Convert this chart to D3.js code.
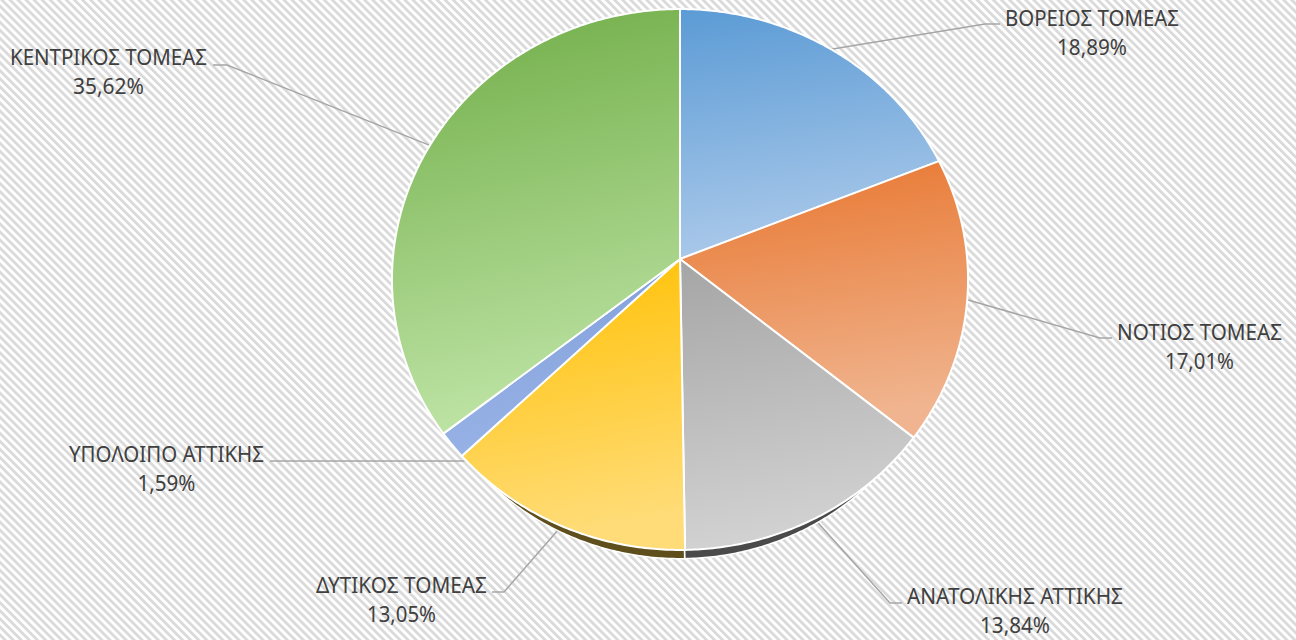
<!DOCTYPE html>
<html>
<head>
<meta charset="utf-8">
<script src="https://cdn.jsdelivr.net/npm/d3@7"></script>
<style>
  html, body { margin: 0; padding: 0; background: #ffffff; }
  svg { display: block; }
</style>
</head>
<body>
<svg id="chart" width="1296" height="640"></svg>
<script>
// ---- data ----
const categories = ["ΒΟΡΕΙΟΣ ΤΟΜΕΑΣ", "ΝΟΤΙΟΣ ΤΟΜΕΑΣ", "ΑΝΑΤΟΛΙΚΗΣ ΑΤΤΙΚΗΣ", "ΔΥΤΙΚΟΣ ΤΟΜΕΑΣ", "ΥΠΟΛΟΙΠΟ ΑΤΤΙΚΗΣ", "ΚΕΝΤΡΙΚΟΣ ΤΟΜΕΑΣ"];
const values = [18.89, 17.01, 13.84, 13.05, 1.59, 35.62];
const valueLabels = ["18,89%", "17,01%", "13,84%", "13,05%", "1,59%", "35,62%"];

// ---- styling ----
const topColors    = ["#5b9bd5", "#e8762f", "#a5a5a5", "#ffc000", "#819fdb", "#70ad47"];
const bottomColors = ["#abc9ea", "#f0b590", "#d2d2d2", "#ffdc78", "#97b2e5", "#bde3a4"];
const sideColors   = ["#2e5d8a", "#8a4514", "#4a4a4a", "#5f4f1d", "#2f4a80", "#3d6426"];

// label layout: text centre x, first baseline y, elbow, end of leader
const labelLayout = [
  {tx: 1092, ty: 26,  elbow: [985, 24],  end: [1000, 24], w1: 174, w2: 70},
  {tx: 1199.5, ty: 340, elbow: [1100, 338], end: [1112, 338], w1: 165, w2: 69},
  {tx: 1015, ty: 604, elbow: [890, 603], end: [902, 603], w1: 216, w2: 70},
  {tx: 401.5, ty: 593, elbow: [504, 592], end: [492, 592], w1: 171, w2: 69},
  {tx: 166.5, ty: 462, elbow: [270, 461], end: [270, 461], w1: 195, w2: 58, flat: true},
  {tx: 108.5, ty: 65,  elbow: [227, 65], end: [213, 65], w1: 197, w2: 71}
];

const svg = d3.select("#chart");
const W = 1296, H = 640;
const defs = svg.append("defs");

// background hatch
const pat = defs.append("pattern")
  .attr("id", "hatch").attr("patternUnits", "userSpaceOnUse")
  .attr("width", 5.7).attr("height", 5.7)
  .attr("patternTransform", "rotate(-45)");
pat.append("rect").attr("width", 5.7).attr("height", 5.7).attr("fill", "#ffffff");
pat.append("rect").attr("width", 2.7).attr("height", 5.7).attr("fill", "#d9d9d9");
svg.append("rect").attr("width", W).attr("height", H).attr("fill", "url(#hatch)");

// gradients
values.forEach((v, i) => {
  const g = defs.append("linearGradient").attr("id", "grad" + i)
    .attr("x1", 0).attr("y1", 0).attr("x2", 0.15).attr("y2", 1);
  g.append("stop").attr("offset", "0%").attr("stop-color", topColors[i]);
  g.append("stop").attr("offset", "100%").attr("stop-color", bottomColors[i]);
});

// perspective-tilted pie projection
const cx = 680, cy = 259;         // apex (pie centre as seen)
const sx = 287.2, sy = 268.9, k = 0.0758;
function proj(theta) {
  const u = Math.sin(theta), v = -Math.cos(theta);
  const den = 1 - k * v;
  return [cx + sx * u / den, cy + sy * v / den];
}
const lambda = 0.92, dy = 32;
function projSide(theta) {
  const p = proj(theta);
  return [cx + lambda * (p[0] - cx), cy + dy + lambda * (p[1] - cy)];
}

const pie = d3.pie().sort(null).value(d => d).startAngle(0).endAngle(2 * Math.PI);
const arcs = pie(values);
const line = d3.line();

function slicePath(a, fn, apex) {
  const n = Math.max(4, Math.ceil((a.endAngle - a.startAngle) / 0.01));
  const pts = [apex];
  for (let j = 0; j <= n; j++) {
    pts.push(fn(a.startAngle + (a.endAngle - a.startAngle) * j / n));
  }
  return line(pts) + "Z";
}

// rim point on the left half at a given screen y (for flat leaders)
function rimAtY(y, a) {
  let best = null, bd = 1e9;
  for (let t = Math.PI; t <= 2 * Math.PI; t += 0.0005) {
    const p = proj(t);
    const d = Math.abs(p[1] - y);
    if (d < bd) { bd = d; best = p; }
  }
  return [best[0] - 2, y];
}

// leader lines (behind pie)
const gLines = svg.append("g");
arcs.forEach((a, i) => {
  const mid = (a.startAngle + a.endAngle) / 2;
  const L = labelLayout[i];
  const s = L.flat ? rimAtY(L.end[1], a) : proj(mid);
  gLines.append("path")
    .attr("d", line([s, L.elbow, L.end]))
    .attr("fill", "none").attr("stroke", "#a6a6a6").attr("stroke-width", 1.5);
});

// side (depth) band
const gSide = svg.append("g");
arcs.forEach((a, i) => {
  gSide.append("path")
    .attr("d", slicePath(a, projSide, [cx, cy + dy]))
    .attr("fill", sideColors[i])
    .attr("stroke", "#ffffff").attr("stroke-width", 1.5).attr("stroke-linejoin", "round");
});

// slices
const gPie = svg.append("g");
arcs.forEach((a, i) => {
  gPie.append("path")
    .attr("d", slicePath(a, proj, [cx, cy]))
    .attr("fill", "url(#grad" + i + ")")
    .attr("stroke", "#ffffff").attr("stroke-width", 2).attr("stroke-linejoin", "round");
});

// labels
const gLab = svg.append("g")
  .attr("font-family", "'Noto Sans', 'Open Sans', sans-serif")
  .attr("font-size", 21.5).attr("fill", "#404040");
categories.forEach((c, i) => {
  const L = labelLayout[i];
  gLab.append("text").attr("x", L.tx).attr("y", L.ty)
    .attr("text-anchor", "middle")
    .attr("textLength", L.w1).attr("lengthAdjust", "spacingAndGlyphs")
    .text(c);
  gLab.append("text").attr("x", L.tx).attr("y", L.ty + 29)
    .attr("text-anchor", "middle")
    .attr("textLength", L.w2).attr("lengthAdjust", "spacingAndGlyphs")
    .text(valueLabels[i]);
});
</script>
</body>
</html>
